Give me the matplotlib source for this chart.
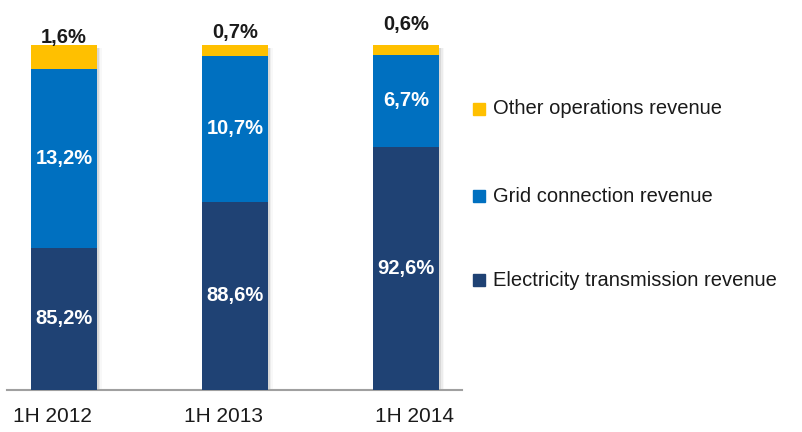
import matplotlib
matplotlib.use("Agg")
import matplotlib.pyplot as plt
import matplotlib.transforms as mtransforms
from matplotlib.font_manager import fontManager

categories = ["1H 2012", "1H 2013", "1H 2014"]
# segment heights as drawn in the picture (share of bar height)
electricity_h = [41.2, 54.5, 70.4]
grid_h = [51.9, 42.3, 26.7]
other_h = [6.9, 3.2, 2.9]
# printed labels
electricity_lbl = ["85,2%", "88,6%", "92,6%"]
grid_lbl = ["13,2%", "10,7%", "6,7%"]
other_lbl = ["1,6%", "0,7%", "0,6%"]
series_names = ["Other operations revenue", "Grid connection revenue", "Electricity transmission revenue"]

names = {f.name for f in fontManager.ttflist}
narrow = "Liberation Sans Narrow" if "Liberation Sans Narrow" in names else "Liberation Sans"

C_DARK = "#1F4274"
C_BLUE = "#0070C0"
C_YEL = "#FFC000"

W, H = 802, 432
fig = plt.figure(figsize=(W / 100, H / 100), dpi=100)
ax = fig.add_axes([7 / W, (H - 390) / H, 455 / W, 390 / H])
ax.set_xlim(-0.333, 2.327)
ax.set_ylim(0, 113.0)

x = list(range(len(categories)))
bw = 0.386
b2 = [a + b for a, b in zip(electricity_h, grid_h)]

# soft shadow
for xi, tot in zip(x, [a + b for a, b in zip(b2, other_h)]):
    for k, al in enumerate([0.18, 0.10, 0.05]):
        ax.bar(xi + 0.012 + k * 0.008, tot - 0.5, bw, bottom=-0.5, color="#808080", alpha=al, zorder=1, linewidth=0)

ax.bar(x, electricity_h, bw, color=C_DARK, zorder=3, linewidth=0)
ax.bar(x, grid_h, bw, bottom=electricity_h, color=C_BLUE, zorder=3, linewidth=0)
ax.bar(x, other_h, bw, bottom=b2, color=C_YEL, zorder=3, linewidth=0)

lblfont = dict(family=[narrow, "DejaVu Sans"], fontsize=14.5, fontweight="bold")
for i in x:
    ax.text(i, electricity_h[i] / 2, electricity_lbl[i], ha="center", va="center", color="white", zorder=5, **lblfont)
    ax.text(i, electricity_h[i] + grid_h[i] / 2, grid_lbl[i], ha="center", va="center", color="white", zorder=5, **lblfont)
top_offsets = [5, 9, 15]
for i in x:
    ax.annotate(other_lbl[i], (i, b2[i] + other_h[i]), xytext=(0, top_offsets[i]), textcoords="offset points",
                ha="center", va="center", color="#1a1a1a", zorder=5, annotation_clip=False, **lblfont)

for s in ["top", "right", "left"]:
    ax.spines[s].set_visible(False)
ax.spines["bottom"].set_color("#A0A0A0")
ax.spines["bottom"].set_linewidth(1.5)
ax.set_yticks([])
ax.set_xticks(x)
ax.set_xticklabels(categories, fontsize=15, family="Liberation Sans", color="#1a1a1a")
ax.tick_params(axis="x", length=0, pad=12)
for lab, dx in zip(ax.get_xticklabels(), [-12, -12, 8]):
    lab.set_transform(lab.get_transform() + mtransforms.ScaledTranslation(dx / 100, 0, fig.dpi_scale_trans))

# legend
leg_y = [109, 196, 280]
leg_c = [C_YEL, C_BLUE, C_DARK]
for name, yy, cc in zip(series_names, leg_y, leg_c):
    fig.patches.append(plt.Rectangle((473 / W, (H - yy - 6) / H), 12 / W, 12 / H, color=cc, transform=fig.transFigure, figure=fig))
    t = fig.text(493 / W, (H - yy) / H, name, ha="left", va="center", fontsize=14.5, family="Liberation Sans", color="#1a1a1a")

fig.savefig("out.png", dpi=100)
